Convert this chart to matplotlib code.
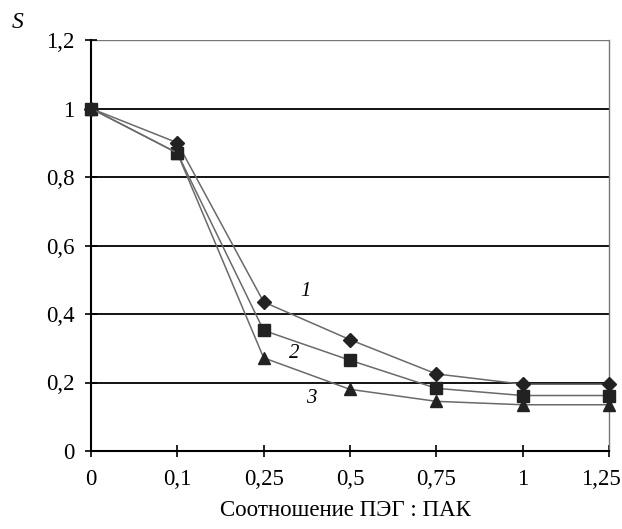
import numpy as np
import matplotlib
matplotlib.use("Agg")
import matplotlib.pyplot as plt
from matplotlib.transforms import ScaledTranslation

plt.rcParams['font.family'] = ['Liberation Serif', 'DejaVu Serif']

# data
ratio_labels = ["0", "0,1", "0,25", "0,5", "0,75", "1", "1,25"]
s_curve1 = [1.0, 0.90, 0.435, 0.325, 0.225, 0.195, 0.195]
s_curve2 = [1.0, 0.87, 0.352, 0.265, 0.183, 0.162, 0.162]
s_curve3 = [1.0, 0.87, 0.272, 0.18, 0.145, 0.135, 0.135]
y_ticks = [0, 0.2, 0.4, 0.6, 0.8, 1.0, 1.2]
y_tick_labels = ["0", "0,2", "0,4", "0,6", "0,8", "1", "1,2"]

fig = plt.figure(figsize=(6.22, 5.29), dpi=100)
ax = fig.add_axes([91 / 622, 1 - 451 / 529, (609 - 91) / 622, (451 - 40) / 529])

x = np.arange(len(ratio_labels))
line_col = "#6a6a6a"
mark_col = "#222222"
ax.plot(x, s_curve1, color=line_col, lw=1.1, marker="D", ms=7.5,
        mfc=mark_col, mec=mark_col, zorder=4, clip_on=False)
ax.plot(x, s_curve2, color=line_col, lw=1.1, marker="s", ms=8,
        mfc=mark_col, mec=mark_col, zorder=4, clip_on=False)
ax.plot(x, s_curve3, color=line_col, lw=1.1, marker="^", ms=8.5,
        mfc=mark_col, mec=mark_col, zorder=4, clip_on=False)

# horizontal grid
for yv in y_ticks[1:-1]:
    ax.axhline(yv, color="black", lw=1.3, zorder=1)
ax.axhline(1.2, color="#777777", lw=1.0, zorder=1)

ax.set_xlim(0, len(ratio_labels) - 1)
ax.set_ylim(0, 1.2)
ax.set_xticks(x)
ax.set_xticklabels(ratio_labels)
ax.set_yticks(y_ticks)
ax.set_yticklabels(y_tick_labels)
ax.tick_params(direction="inout", length=8, width=1.2, labelsize=16.5, pad=8)
ax.tick_params(axis="x", pad=9)

# last x label sits a bit left so it stays inside the figure
last = ax.get_xticklabels()[-1]
last.set_transform(last.get_transform() + ScaledTranslation(-8 / 100, 0, fig.dpi_scale_trans))

for side in ["left", "bottom"]:
    ax.spines[side].set_linewidth(1.5)
    ax.spines[side].set_color("black")
ax.spines["top"].set_visible(False)
ax.spines["right"].set_color("#777777")
ax.spines["right"].set_linewidth(1.0)

ax.text(2.48, 0.465, "1", fontsize=15, style="italic", ha="center", va="center")
ax.text(2.35, 0.285, "2", fontsize=15, style="italic", ha="center", va="center")
ax.text(2.55, 0.152, "3", fontsize=15, style="italic", ha="center", va="center")

fig.text(18 / 622, 1 - 23 / 529, "S", fontsize=17, style="italic",
         ha="center", va="center")
fig.text(345 / 622, 1 - 510 / 529, "Соотношение ПЭГ : ПАК", fontsize=16.5,
         ha="center", va="center")

fig.savefig("out.png", dpi=100)
